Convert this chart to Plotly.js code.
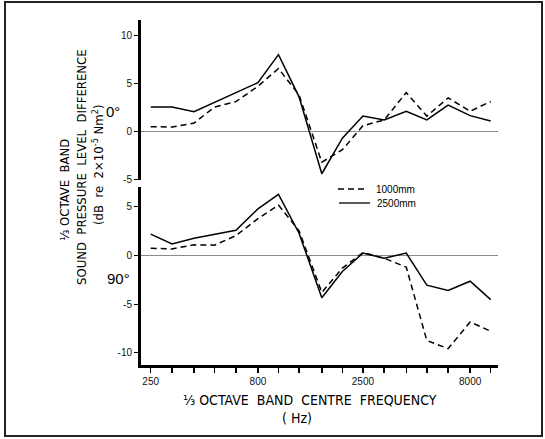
<!DOCTYPE html>
<html><head><meta charset="utf-8">
<script src="https://cdn.plot.ly/plotly-3.0.1.min.js"></script>
<style>html,body{margin:0;padding:0;background:#fff}#chart{width:545px;height:439px}</style>
</head><body><div id="chart"></div>
<script>
// ---- data ----
const frequencies = [250,315,400,500,630,800,1000,1250,1600,2000,2500,3150,4000,5000,6300,8000,10000];
const freqTickLabels = ['250','','','','','800','','','','','2500','','','','','8000',''];
const seriesNames = ['1000mm','2500mm'];
// 0 degree panel
const deg0_1000mm = [0.5,0.47,0.87,2.55,3.1,4.7,6.55,3.8,-3.2,-1.9,0.6,1.2,4.05,1.6,3.5,2.1,3.12];
const deg0_2500mm = [2.55,2.55,2.05,3.05,4.05,5.08,8.0,3.6,-4.4,-0.7,1.6,1.2,2.1,1.2,2.75,1.65,1.1];
// 90 degree panel
const deg90_1000mm = [0.75,0.68,1.1,1.07,2.05,3.8,5.2,2.55,-3.8,-1.3,0.3,-0.28,-1.2,-8.75,-9.6,-6.85,-7.8];
const deg90_2500mm = [2.2,1.2,1.77,2.2,2.6,4.8,6.3,2.3,-4.35,-1.65,0.25,-0.28,0.25,-3.05,-3.6,-2.65,-4.55];
const upperTickVals = [-5,0,5,10];
const upperTickText = ['-5','0','5','10'];
const lowerTickVals = [-10,-5,0,5];
const lowerTickText = ['-10','-5','0','5'];
const panelLabels = ['0°','90°'];
const yTitleLines = ['⅓ OCTAVE  BAND','SOUND  PRESSURE  LEVEL  DIFFERENCE','(dB  re  2×10<sup>-5</sup> Nm<sup>2</sup>)'];
const xTitleLines = ['⅓ OCTAVE  BAND  CENTRE  FREQUENCY','( Hz)'];

// ---- layout helpers (pixel -> paper) ----
const L=141, T=20, R=47, B=74, W=545-L-R, H=439-T-B;
const px = v => (v-L)/W;
const py = v => 1-(v-T)/H;

const narrow = 'Liberation Sans Narrow, Arial Narrow, DejaVu Sans Condensed, Liberation Sans, Arial, sans-serif';
const sans = 'Liberation Sans, Arial, Helvetica, sans-serif';

const dashStyle = '6px,4px';
const lineW = 1.5;

const traces = [
  {x:frequencies, y:deg0_1000mm, xaxis:'x', yaxis:'y', mode:'lines', name:seriesNames[0],
   line:{color:'#000', width:lineW, dash:dashStyle}},
  {x:frequencies, y:deg0_2500mm, xaxis:'x', yaxis:'y', mode:'lines', name:seriesNames[1],
   line:{color:'#000', width:lineW}},
  {x:frequencies, y:deg90_1000mm, xaxis:'x', yaxis:'y2', mode:'lines', name:seriesNames[0],
   line:{color:'#000', width:lineW, dash:dashStyle}},
  {x:frequencies, y:deg90_2500mm, xaxis:'x', yaxis:'y2', mode:'lines', name:seriesNames[1],
   line:{color:'#000', width:lineW}}
];

function ann(text, x, y, size, family, angle, xanchor) {
  return {text:text, xref:'paper', yref:'paper', x:px(x), y:py(y), showarrow:false,
          xanchor:xanchor||'center', yanchor:'middle', textangle:angle||0,
          font:{family:family, size:size, color:'#000'}};
}

// custom legend (decoration only)
const legendRows = [
  {name:seriesNames[0], dash:dashStyle, y:189, x0:338, x1:368, tx:374},
  {name:seriesNames[1], dash:'solid', y:203, x0:339, x1:370, tx:375}
];
const legendShapes = legendRows.map(r => ({type:'line', xref:'paper', yref:'paper',
  x0:px(r.x0), x1:px(r.x1), y0:py(r.y), y1:py(r.y), line:{color:'#000', width:1.3, dash:r.dash}}));
const legendAnns = legendRows.map(r => ann(r.name, r.tx, r.y, 10, sans, 0, 'left'));

const layout = {
  width:545, height:439,
  margin:{l:L, r:R, t:T, b:B, pad:0},
  paper_bgcolor:'#fff', plot_bgcolor:'#fff',
  showlegend:false,
  xaxis:{type:'log', range:[2.3522, 4.0344], anchor:'y2',
         tickmode:'array', tickvals:frequencies, ticktext:freqTickLabels,
         ticks:'outside', ticklen:5, tickwidth:1.5, tickcolor:'#000',
         showline:true, linecolor:'#000', linewidth:2.5, showgrid:false, zeroline:false,
         tickfont:{family:sans, size:10, color:'#111'}},
  yaxis:{domain:[py(180),1], range:[-5.05,11.6], anchor:'x',
         tickmode:'array', tickvals:upperTickVals, ticktext:upperTickText,
         ticks:'outside', ticklen:4, tickwidth:1, tickcolor:'#000',
         showline:true, linecolor:'#000', linewidth:3, showgrid:false,
         zeroline:true, zerolinecolor:'#8a8a8a', zerolinewidth:1.5,
         tickfont:{family:sans, size:10, color:'#111'}},
  yaxis2:{domain:[0,py(187)], range:[-11.28,7.06], anchor:'x',
         tickmode:'array', tickvals:lowerTickVals, ticktext:lowerTickText,
         ticks:'outside', ticklen:4, tickwidth:1, tickcolor:'#000',
         showline:true, linecolor:'#000', linewidth:3, showgrid:false,
         zeroline:true, zerolinecolor:'#8a8a8a', zerolinewidth:1.2,
         tickfont:{family:sans, size:10, color:'#111'}},
  shapes:[
    {type:'rect', xref:'paper', yref:'paper', x0:px(5), x1:px(542), y0:py(2), y1:py(436),
     line:{color:'#222', width:2}, fillcolor:'rgba(0,0,0,0)', layer:'below'}
  ].concat(legendShapes),
  annotations:[
    ann(panelLabels[0], 113, 112, 15, sans),
    ann(panelLabels[1], 118, 278, 15, sans),
    ann(yTitleLines[0], 64, 190, 13, narrow, -90),
    ann(yTitleLines[1], 81, 167, 13, narrow, -90),
    ann(yTitleLines[2], 98, 165, 13, narrow, -90),
    ann(xTitleLines[0], 310, 400, 14, narrow),
    ann(xTitleLines[1], 297, 418, 14, narrow)
  ].concat(legendAnns)
};

Plotly.newPlot('chart', traces, layout, {staticPlot:true, displayModeBar:false});
</script>
</body></html>
